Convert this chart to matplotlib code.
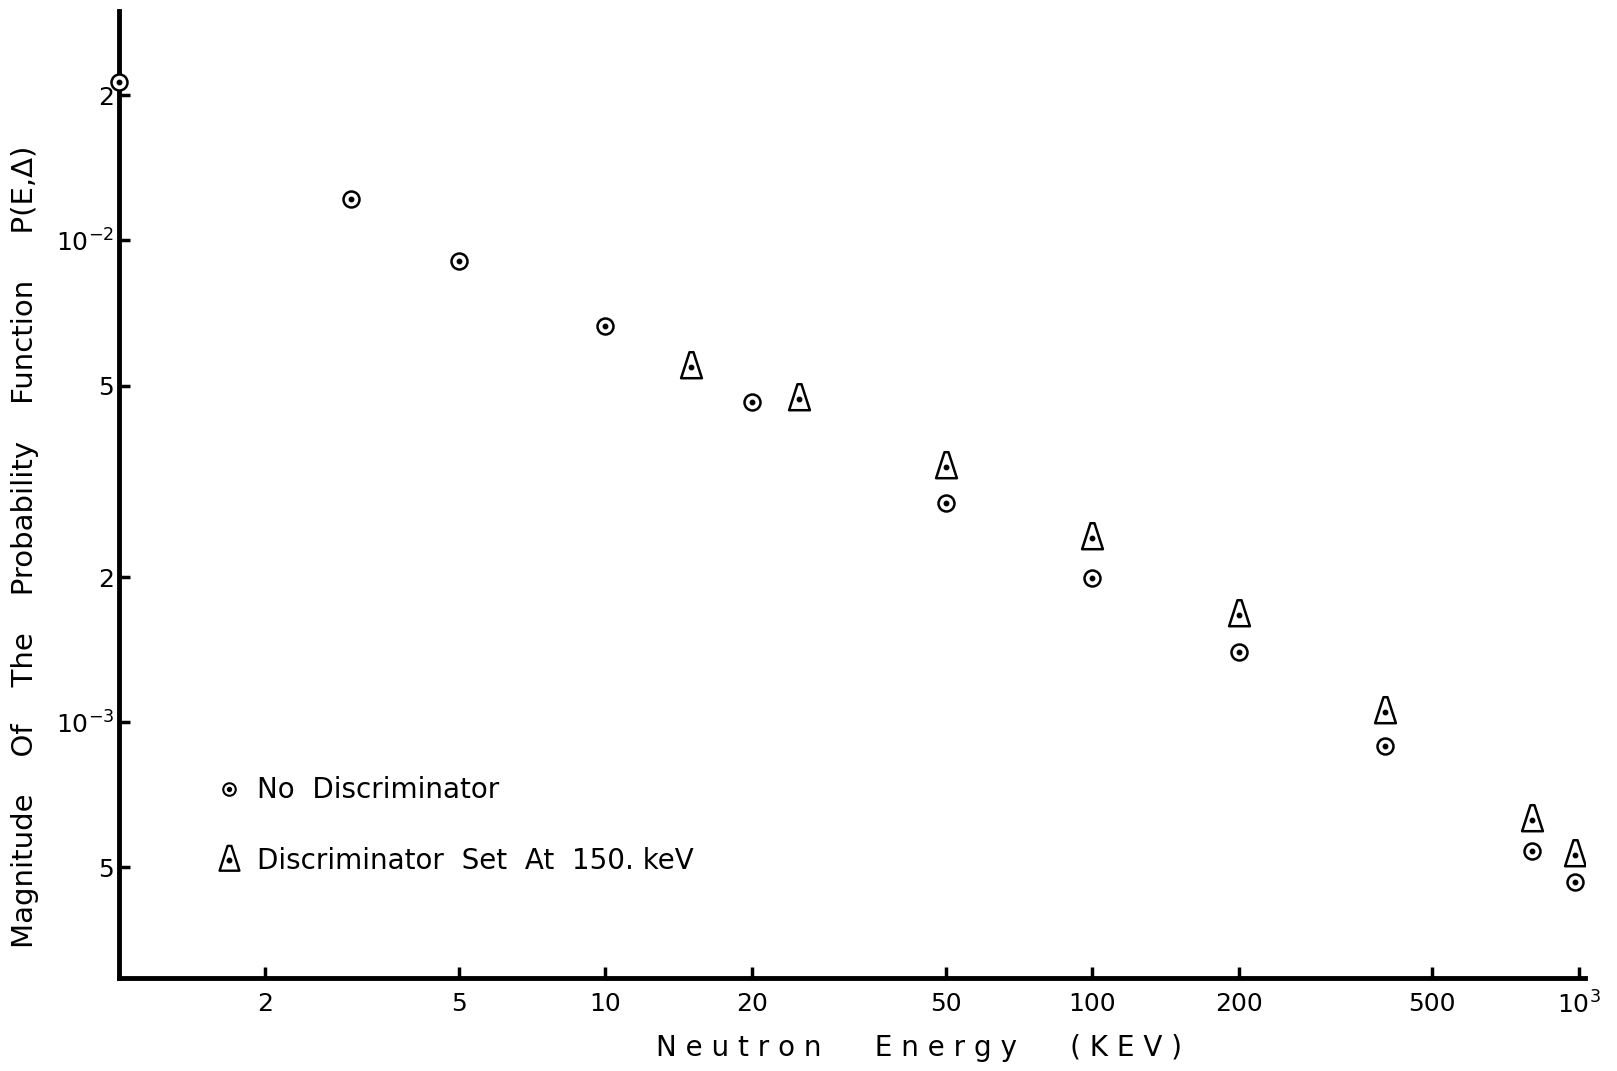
import numpy as np
import matplotlib.pyplot as plt
from matplotlib.path import Path
from matplotlib.legend_handler import HandlerTuple

# datos
e_sin = [1, 3, 5, 10, 20, 50, 100, 200, 400, 800, 980]
p_sin = [2.13e-2, 1.22e-2, 9.06e-3, 6.65e-3, 4.62e-3, 2.85e-3, 1.99e-3, 1.40e-3, 8.93e-4, 5.41e-4, 4.67e-4]

e_disc = [15, 25, 50, 100, 200, 400, 800, 980]
p_disc = [5.46e-3, 4.69e-3, 3.39e-3, 2.41e-3, 1.67e-3, 1.05e-3, 6.26e-4, 5.30e-4]

xticks = [2, 5, 10, 20, 50, 100, 200, 500, 1000]
xticklabels = ['2', '5', '10', '20', '50', '100', '200', '500', r'$10^3$']
yticks = [5e-4, 1e-3, 2e-3, 5e-3, 1e-2, 2e-2]
yticklabels = ['5', r'$10^{-3}$', '2', '5', r'$10^{-2}$', '2']

# triangulo alargado, como el dibujado a mano
tri = Path([(-0.68, -0.7), (0.68, -0.7), (0.13, 1.0), (-0.13, 1.0), (-0.68, -0.7)],
           [Path.MOVETO, Path.LINETO, Path.LINETO, Path.LINETO, Path.CLOSEPOLY])

fig = plt.figure(figsize=(16.17, 10.71), dpi=100)
ax = fig.add_axes([0.0733, 0.0871, 0.907, 0.903])
ax.set_xscale('log')
ax.set_yscale('log')
ax.set_xlim(1, 1030)
ax.set_ylim(2.95e-4, 3.0e-2)

ax.plot(e_sin, p_sin, 'o', ms=11.5, mfc='white', mec='black', mew=1.8, ls='none', clip_on=False, zorder=3)
ax.plot(e_sin, p_sin, 'o', ms=3.2, color='black', ls='none', clip_on=False, zorder=4)
ax.plot(e_disc, p_disc, marker=tri, ms=22, mfc='white', mec='black', mew=1.8, ls='none', zorder=3)
ax.plot(e_disc, p_disc, 'o', ms=3.2, color='black', ls='none', zorder=4)

for s in ['top', 'right']:
    ax.spines[s].set_visible(False)
for s in ['left', 'bottom']:
    ax.spines[s].set_linewidth(3.5)

ax.minorticks_off()
ax.set_xticks(xticks)
ax.set_xticklabels(xticklabels)
ax.set_yticks(yticks)
ax.set_yticklabels(yticklabels)
ax.tick_params(direction='in', length=8, width=2.5, labelsize=18, pad=3)
ax.tick_params(axis='x', pad=10)

ax.set_xlabel('N e u t r o n      E n e r g y      ( K E V )', fontsize=20)
ax.xaxis.set_label_coords(0.546, -0.058)
ax.set_ylabel('Magnitude    Of    The    Probability    Function     P(E,Δ)', fontsize=21)
ax.yaxis.set_label_coords(-0.054, 0.446)

# leyenda
c1l, = ax.plot([], [], 'o', ms=9, mfc='white', mec='black', mew=1.5, ls='none')
d1l, = ax.plot([], [], 'o', ms=2.8, color='black', ls='none')
t2l, = ax.plot([], [], marker=tri, ms=21, mfc='white', mec='black', mew=1.7, ls='none')
d2l, = ax.plot([], [], 'o', ms=3.2, color='black', ls='none')
ax.legend([(c1l, d1l), (t2l, d2l)], ['No  Discriminator', 'Discriminator  Set  At  150. keV'],
          handler_map={tuple: HandlerTuple(ndivide=1)},
          loc='lower left', bbox_to_anchor=(0.045, 0.08), frameon=False,
          fontsize=20, labelspacing=1.55, handletextpad=0.3, handlelength=1.4)

fig.savefig('out.png', dpi=100)
